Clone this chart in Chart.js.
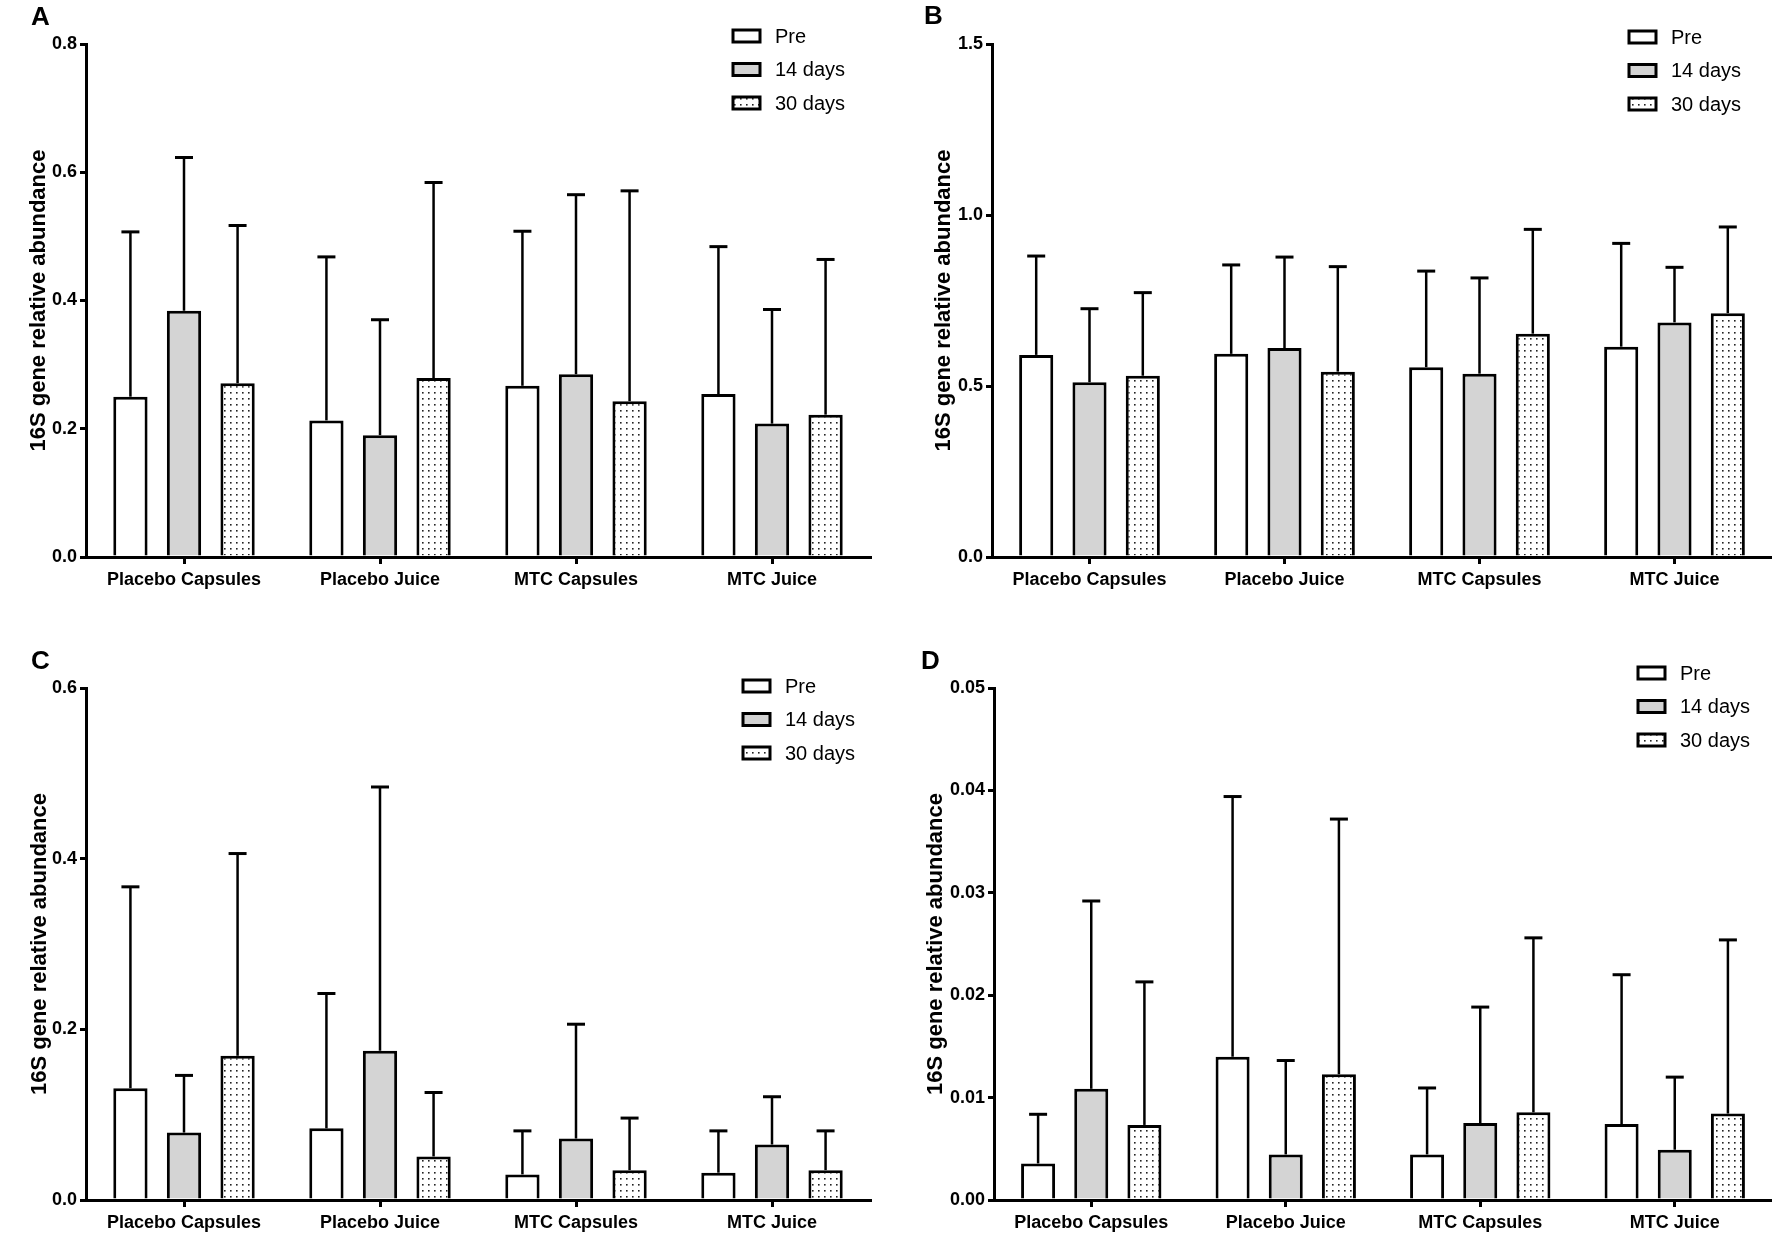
<!DOCTYPE html>
<html>
<head>
<meta charset="utf-8">
<script src="https://cdn.jsdelivr.net/npm/chart.js@4.4.1/dist/chart.umd.min.js"></script>
<style>
  body { margin: 0; background: #fff; width: 1772px; height: 1236px; position: relative; overflow: hidden; }
  .panel { position: absolute; width: 886px; height: 618px; }
  .letter { position: absolute; font: bold 26px "Liberation Sans", Arial, sans-serif; line-height: 26px; color: #000; }
</style>
</head>
<body>
<div class="panel" style="left:0;top:0"><canvas id="chartA" width="886" height="618"></canvas></div>
<div class="panel" style="left:886px;top:0"><canvas id="chartB" width="886" height="618"></canvas></div>
<div class="panel" style="left:0;top:618px"><canvas id="chartC" width="886" height="618"></canvas></div>
<div class="panel" style="left:886px;top:618px"><canvas id="chartD" width="886" height="618"></canvas></div>
<div class="letter" style="left:31px;top:3px">A</div>
<div class="letter" style="left:924px;top:2px">B</div>
<div class="letter" style="left:31px;top:647px">C</div>
<div class="letter" style="left:921px;top:647px">D</div>
<script>
// Groups and time points
const categories = ['Placebo Capsules', 'Placebo Juice', 'MTC Capsules', 'MTC Juice'];
const seriesLabels = ['Pre', '14 days', '30 days'];
const yTitle = '16S gene relative abundance';

// Panel A: means and top of error bars
const aPre = [0.250, 0.213, 0.267, 0.254];
const a14 = [0.384, 0.190, 0.285, 0.208];
const a30 = [0.271, 0.279, 0.243, 0.222];
const aPreTop = [0.507, 0.468, 0.508, 0.484];
const a14Top = [0.623, 0.370, 0.565, 0.386];
const a30Top = [0.517, 0.584, 0.571, 0.464];
const aTicks = [0, 0.2, 0.4, 0.6, 0.8];

// Panel B
const bPre = [0.591, 0.594, 0.555, 0.615];
const b14 = [0.511, 0.611, 0.536, 0.686];
const b30 = [0.530, 0.542, 0.653, 0.713];
const bPreTop = [0.880, 0.854, 0.836, 0.917];
const b14Top = [0.726, 0.877, 0.816, 0.847];
const b30Top = [0.773, 0.849, 0.958, 0.965];
const bTicks = [0, 0.5, 1.0, 1.5];

// Panel C
const cPre = [0.131, 0.084, 0.030, 0.032];
const c14 = [0.079, 0.175, 0.072, 0.065];
const c30 = [0.169, 0.051, 0.035, 0.035];
const cPreTop = [0.367, 0.242, 0.081, 0.081];
const c14Top = [0.146, 0.484, 0.206, 0.121];
const c30Top = [0.406, 0.126, 0.096, 0.081];
const cTicks = [0, 0.2, 0.4, 0.6];

// Panel D
const dPre = [0.00357, 0.0140, 0.00445, 0.00741];
const d14 = [0.01086, 0.00445, 0.00752, 0.00491];
const d30 = [0.00733, 0.01228, 0.00856, 0.00844];
const dPreTop = [0.00837, 0.0394, 0.01094, 0.0220];
const d14Top = [0.0292, 0.01362, 0.01884, 0.0120];
const d30Top = [0.0213, 0.0372, 0.0256, 0.0254];
const dTicks = [0, 0.01, 0.02, 0.03, 0.04, 0.05];

const FONT = '"Liberation Sans", Arial, sans-serif';

// dotted fill for the 30 days bars
const makeDots = () => {
    const c = document.createElement('canvas');
    c.width = 6; c.height = 6;
    const g = c.getContext('2d');
    g.fillStyle = '#fff';
    g.fillRect(0, 0, 6, 6);
    g.fillStyle = '#222';
    g.fillRect(2, 2, 1.6, 1.6);
    return g.createPattern(c, 'repeat');
};
const dots = makeDots();
const fills = ['#ffffff', '#d4d4d4', dots];

// upper error bar with cap
const errorBars = {
    id: 'errorBars',
    afterDatasetsDraw(chart) {
        const ctx = chart.ctx;
        const y = chart.scales.y;
        chart.data.datasets.forEach((ds, i) => {
            chart.getDatasetMeta(i).data.forEach((bar, j) => {
                const top = y.getPixelForValue(ds.upper[j]);
                ctx.save();
                ctx.strokeStyle = '#000';
                ctx.lineWidth = 2.5;
                ctx.beginPath();
                ctx.moveTo(bar.x, bar.y);
                ctx.lineTo(bar.x, top);
                ctx.stroke();
                ctx.lineWidth = 3;
                ctx.beginPath();
                ctx.moveTo(bar.x - 9, top);
                ctx.lineTo(bar.x + 9, top);
                ctx.stroke();
                ctx.restore();
            });
        });
    }
};

// legend drawn inside the top-right corner
const boxLegend = {
    id: 'boxLegend',
    afterDraw(chart, args, opts) {
        const ctx = chart.ctx;
        chart.data.datasets.forEach((ds, i) => {
            const cy = opts.y + i * 33.5;
            ctx.save();
            ctx.fillStyle = ds.backgroundColor;
            ctx.fillRect(opts.x, cy - 6, 27, 12);
            ctx.strokeStyle = '#000';
            ctx.lineWidth = 3;
            ctx.strokeRect(opts.x, cy - 6, 27, 12);
            ctx.fillStyle = '#000';
            ctx.font = '20px ' + FONT;
            ctx.textBaseline = 'middle';
            ctx.fillText(ds.label, opts.x + 42, cy + 1);
            ctx.restore();
        });
    }
};

const renderPanel = (id, means, tops, ticks, decimals, pad, yWidth, xHeight, legendPos) => {
    const ctx = document.getElementById(id).getContext('2d');
    new Chart(ctx, {
        type: 'bar',
        data: {
            labels: categories,
            datasets: seriesLabels.map((label, i) => ({
                label: label,
                data: means[i],
                upper: tops[i],
                backgroundColor: fills[i],
                borderColor: '#000',
                borderWidth: 3,
                borderSkipped: 'start',
                categoryPercentage: 0.82,
                barPercentage: 0.64
            }))
        },
        options: {
            responsive: false,
            devicePixelRatio: 1,
            animation: false,
            layout: { padding: pad },
            plugins: {
                legend: { display: false },
                tooltip: { enabled: false },
                boxLegend: legendPos
            },
            scales: {
                x: {
                    offset: true,
                    afterFit: (axis) => { axis.height = xHeight; },
                    grid: { offset: false, drawOnChartArea: false, color: '#000', lineWidth: 3, tickLength: 7 },
                    border: { color: '#000', width: 3 },
                    ticks: { color: '#000', padding: 5, font: { family: FONT, weight: 'bold', size: 18 } }
                },
                y: {
                    min: ticks[0],
                    max: ticks[ticks.length - 1],
                    afterFit: (axis) => { axis.width = yWidth; },
                    afterBuildTicks: (axis) => { axis.ticks = ticks.map(v => ({ value: v })); },
                    grid: { drawOnChartArea: false, color: '#000', lineWidth: 3, tickLength: 6 },
                    border: { color: '#000', width: 3 },
                    ticks: {
                        color: '#000',
                        padding: 3,
                        font: { family: FONT, weight: 'bold', size: 18 },
                        callback: (v) => Number(v).toFixed(decimals)
                    },
                    title: {
                        display: true,
                        text: yTitle,
                        color: '#000',
                        padding: 0,
                        font: { family: FONT, weight: 'bold', size: 22 }
                    }
                }
            }
        },
        plugins: [errorBars, boxLegend]
    });
};

renderPanel('chartA', [aPre, a14, a30], [aPreTop, a14Top, a30Top], aTicks, 1,
    { left: 26, top: 44, right: 16, bottom: 0 }, 60, 61, { x: 733, y: 36 });
renderPanel('chartB', [bPre, b14, b30], [bPreTop, b14Top, b30Top], bTicks, 1,
    { left: 45, top: 44, right: 0, bottom: 0 }, 61, 61, { x: 743, y: 37 });
renderPanel('chartC', [cPre, c14, c30], [cPreTop, c14Top, c30Top], cTicks, 1,
    { left: 27, top: 70, right: 16, bottom: 0 }, 59, 36, { x: 743, y: 68 });
renderPanel('chartD', [dPre, d14, d30], [dPreTop, d14Top, d30Top], dTicks, 2,
    { left: 37, top: 70, right: 0, bottom: 0 }, 71, 36, { x: 752, y: 55 });
</script>
</body>
</html>
